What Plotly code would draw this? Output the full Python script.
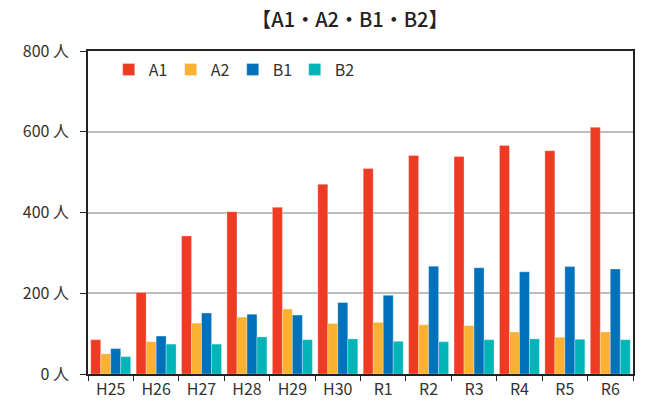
import plotly.graph_objects as go

# Fiscal years (Heisei / Reiwa)
years = ["H25", "H26", "H27", "H28", "H29", "H30", "R1", "R2", "R3", "R4", "R5", "R6"]

# Headcount per category
a1 = [85, 202, 342, 402, 413, 470, 509, 541, 539, 566, 553, 611]
a2 = [50, 80, 126, 141, 161, 125, 128, 122, 120, 104, 91, 104]
b1 = [63, 94, 151, 148, 146, 177, 195, 267, 263, 253, 266, 260]
b2 = [43, 74, 74, 92, 85, 87, 81, 80, 85, 87, 86, 85]

y_ticks = [0, 200, 400, 600, 800]
y_tick_text = [f"{v} 人" for v in y_ticks]

series = [
    ("A1", a1, "#EE3B24"),
    ("A2", a2, "#FBB132"),
    ("B1", b1, "#0072BC"),
    ("B2", b2, "#00B4B7"),
]

FONT = "Noto Sans CJK JP"

fig = go.Figure()
for name, vals, color in series:
    fig.add_trace(go.Bar(
        x=years, y=vals, name=name,
        marker=dict(color=color, line=dict(color="rgba(255,255,255,0.5)", width=0.6)),
    ))

fig.update_layout(
    width=648, height=412,
    margin=dict(l=88, r=15, t=51, b=34),
    paper_bgcolor="white", plot_bgcolor="white",
    barmode="group", bargap=0.12, bargroupgap=0,
    font=dict(family=FONT, color="#333333", size=16),
    title=dict(
        text="【A1・A2・B1・B2】",
        x=0.54, xanchor="center", y=0.952, yanchor="middle",
        font=dict(family=FONT, size=20, color="#222222", weight=500),
    ),
    legend=dict(
        orientation="h", x=0.038, xanchor="left", y=0.995, yanchor="top",
        bgcolor="rgba(0,0,0,0)", font=dict(size=16, color="#333333"),
        entrywidth=17, entrywidthmode="pixels", itemwidth=30,
    ),
    showlegend=True,
)

fig.update_xaxes(
    showline=True, linecolor="#222222", linewidth=1.5, mirror=True,
    ticks="outside", tickson="boundaries", ticklen=5, tickcolor="#222222", tickwidth=1.2,
    tickfont=dict(size=16, color="#333333"), showgrid=False,
)
fig.update_yaxes(
    range=[0, 800], tickvals=y_ticks, ticktext=y_tick_text,
    showline=True, linecolor="#222222", linewidth=1.5, mirror=True,
    ticks="outside", ticklen=6, tickcolor="#222222", tickwidth=1.2,
    showgrid=True, gridcolor="#BDBDBD", gridwidth=1.6,
    tickfont=dict(size=16, color="#333333"), ticklabelstandoff=8,
    zeroline=False,
)

fig.write_html("out.html")
